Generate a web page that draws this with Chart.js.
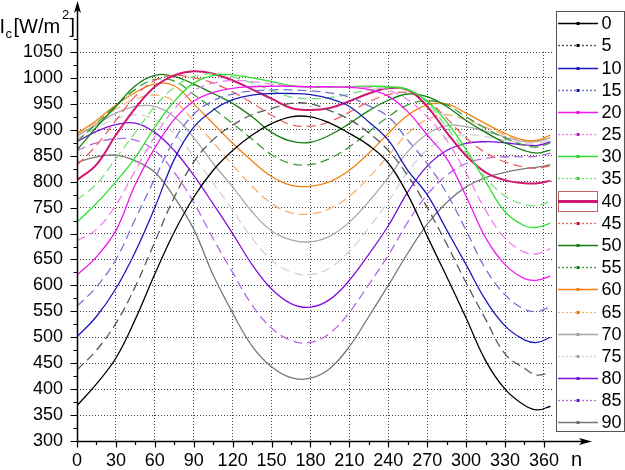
<!DOCTYPE html>
<html>
<head>
<meta charset="utf-8">
<script src="https://cdn.jsdelivr.net/npm/chart.js@4.4.1/dist/chart.umd.min.js"></script>
<style>
html,body{margin:0;padding:0;background:#fff;}
#wrap{width:625px;height:470px;position:relative;}
</style>
</head>
<body>
<div id="wrap"><canvas id="chart" width="625" height="470"></canvas></div>
<script>
// day of the year
const days = [0,15,30,45,60,75,90,105,120,135,150,165,180,195,210,225,240,255,270,285,300,315,330,345,355,365];
// tilt angles (legend)
const tilts = [0,5,10,15,20,25,30,35,40,45,50,55,60,65,70,75,80,85,90];

// Ic [W/m2], one list per tilt
const ic0  = [368,410,460,535,622,703,770,822,860,890,912,925,925,913,893,870,836,775,695,617,537,455,400,369,360,367];
const ic5  = [437,475,527,598,684,770,838,881,909,929,941,951,950,937,920,894,860,812,750,680,605,535,468,440,427,433];
const ic10 = [501,540,594,665,750,843,905,938,958,967,970,970,968,960,945,915,880,822,775,707,640,572,522,495,490,500];
const ic15 = [560,597,650,728,806,880,930,956,969,975,977,977,975,971,963,946,925,880,835,778,706,632,582,554,550,559];
const ic20 = [620,655,706,795,865,920,955,972,980,983,984,984,983,983,982,978,965,935,890,845,772,692,640,613,610,618];
const ic25 = [686,708,755,822,887,940,975,990,995,993,988,984,982,982,982,982,976,958,925,880,817,745,691,664,661,671];
const ic30 = [722,758,800,847,905,955,990,1005,1006,1000,993,985,982,982,983,984,983,978,955,915,862,800,742,715,712,720];
const ic35 = [765,795,845,895,945,982,1003,1008,1002,990,976,963,960,962,969,977,981,978,952,905,856,808,772,756,754,762];
const ic40 = [803,833,890,942,983,1005,1013,1008,995,978,960,942,938,942,955,970,980,977,945,895,850,818,803,797,797,802];
const ic45 = [832,870,918,965,995,1005,1000,990,973,952,928,910,907,916,934,954,968,972,956,922,884,856,838,828,826,831];
const ic50 = [861,905,945,985,1005,1003,988,970,951,925,895,878,876,890,912,937,957,969,964,945,918,895,875,860,855,861];
const ic55 = [877,912,947,978,997,994,968,941,912,882,852,835,833,845,867,896,925,948,956,948,925,903,884,870,867,875];
const ic60 = [893,918,948,972,988,985,950,912,874,840,810,793,791,800,822,855,893,928,948,950,932,912,893,880,880,890];
const ic65 = [891,914,940,959,967,955,917,876,832,791,758,740,738,748,772,808,850,893,920,929,919,905,890,879,879,888];
const ic70 = [888,910,932,945,945,925,885,835,790,742,705,688,684,695,722,762,808,858,892,908,906,897,886,877,877,885];
const ic75 = [883,904,921,929,920,893,849,797,745,691,649,626,621,634,666,711,762,819,861,884,890,887,880,874,873,881];
const ic80 = [877,897,910,913,895,860,812,757,700,640,593,565,558,573,610,660,715,780,830,860,874,877,875,871,870,877];
const ic85 = [860,875,883,880,860,818,760,690,625,562,518,494,490,508,548,602,658,722,775,812,835,845,848,848,849,855];
const ic90 = [837,848,851,840,818,770,708,620,547,483,443,422,421,440,482,540,600,662,718,760,790,808,818,825,828,833];

const series = [ic0,ic5,ic10,ic15,ic20,ic25,ic30,ic35,ic40,ic45,ic50,ic55,ic60,ic65,ic70,ic75,ic80,ic85,ic90];

// styles
const lineColors = ['#000000','#585858','#1a1ab8','#7474d4','#f018f0','#f080f0','#30e030','#78e078','#d01870',
  '#f06060','#108010','#3a9a3a','#f08010','#f8b070','#a8a8a8','#d2d2d2','#8010e0','#b466e6','#787878'];
const markColors = ['#000','#000','#1a1ab8','#1a1ab8','#e010e0','#c020c0','#30d030','#30d030','#c01870',
  '#d01010','#108010','#108010','#f08010','#e07010','#a0a0a0','#a0a0a0','#7010d0','#7010d0','#707070'];

const FONT = "'Liberation Sans', Arial, sans-serif";

const datasets = series.map((vals, i) => ({
  label: String(tilts[i]),
  data: vals.map((v, k) => ({x: days[k], y: v})),
  borderColor: lineColors[i],
  borderWidth: tilts[i] === 40 ? 2 : 1.3,
  borderDash: i % 2 ? [9, 5] : [],
  pointRadius: 0,
  tension: 0.4,
  fill: false
}));

// axes with arrows and minor ticks
const axesPlugin = {
  id: 'axes',
  afterDatasetsDraw(chart) {
    const {ctx, scales: {x, y}} = chart;
    const x0 = Math.round(x.getPixelForValue(0)) + 0.5;
    const y0 = Math.round(y.getPixelForValue(300)) + 0.5;
    ctx.save();
    ctx.strokeStyle = '#000';
    ctx.fillStyle = '#000';
    ctx.lineWidth = 1.5;
    ctx.beginPath();
    ctx.moveTo(x0, y0); ctx.lineTo(x0, 9);
    ctx.moveTo(x0, y0); ctx.lineTo(582, y0);
    ctx.stroke();
    ctx.beginPath();
    ctx.moveTo(x0, 1); ctx.lineTo(x0 - 3.5, 13); ctx.lineTo(x0, 10); ctx.lineTo(x0 + 3.5, 13); ctx.closePath();
    ctx.fill();
    ctx.beginPath();
    ctx.moveTo(592, y0); ctx.lineTo(579, y0 - 3.5); ctx.lineTo(582, y0); ctx.lineTo(579, y0 + 3.5); ctx.closePath();
    ctx.fill();
    ctx.lineWidth = 1.2;
    ctx.beginPath();
    for (let v = 0; v <= 360; v += 15) {
      const px = Math.round(x.getPixelForValue(v)) + 0.5;
      ctx.moveTo(px, y0); ctx.lineTo(px, y0 + (v % 30 === 0 ? 6 : 3.5));
    }
    for (let v = 300; v <= 1075; v += 25) {
      const py = Math.round(y.getPixelForValue(v)) + 0.5;
      ctx.moveTo(x0, py); ctx.lineTo(x0 - (v % 50 === 0 ? 7 : 4), py);
    }
    ctx.stroke();
    // axis titles
    ctx.textBaseline = 'alphabetic';
    ctx.textAlign = 'left';
    ctx.font = '20px ' + FONT;
    ctx.fillText('I', -0.5, 33);
    ctx.fillText('[W/m', 13.5, 33);
    ctx.fillText(']', 69.5, 33);
    ctx.font = '13px ' + FONT;
    ctx.fillText('c', 5.5, 38);
    ctx.fillText('2', 62, 19);
    ctx.font = '20px ' + FONT;
    ctx.fillText('n', 571, 466);
    ctx.restore();
  }
};

// boxed legend at the right
const legendPlugin = {
  id: 'boxLegend',
  afterDraw(chart) {
    const ctx = chart.ctx;
    const left = 556.5, top = 11.5, right = 624.5, bottom = 431.5;
    ctx.save();
    ctx.fillStyle = '#fff';
    ctx.fillRect(left, top, right - left, bottom - top);
    ctx.strokeStyle = '#555';
    ctx.lineWidth = 1;
    ctx.strokeRect(left, top, right - left, bottom - top);
    ctx.font = '18px ' + FONT;
    ctx.textBaseline = 'middle';
    ctx.textAlign = 'left';
    chart.data.datasets.forEach((ds, i) => {
      const cy = Math.round(23.3 + i * 22.17) + 0.5;
      if (tilts[i] === 40) {
        ctx.strokeStyle = '#c86060';
        ctx.lineWidth = 1;
        ctx.strokeRect(558.5, cy - 10, 39, 20);
      }
      ctx.strokeStyle = lineColors[i];
      ctx.lineWidth = tilts[i] === 40 ? 3 : 1.3;
      ctx.setLineDash(i % 2 ? [2, 2] : []);
      ctx.beginPath();
      ctx.moveTo(558, cy); ctx.lineTo(598, cy);
      ctx.stroke();
      ctx.setLineDash([]);
      ctx.fillStyle = markColors[i];
      ctx.fillRect(576.5, cy - 1.5, 3, 3);
      ctx.fillStyle = '#000';
      ctx.fillText(ds.label, 601.5, cy + 1);
    });
    ctx.restore();
  }
};

new Chart(document.getElementById('chart').getContext('2d'), {
  type: 'line',
  data: {datasets},
  options: {
    responsive: false,
    animation: false,
    devicePixelRatio: 1,
    layout: {padding: {left: 0, top: 52, right: 72, bottom: 0}},
    plugins: {legend: {display: false}, tooltip: {enabled: false}},
    scales: {
      x: {
        type: 'linear', min: 0, max: 367,
        afterFit: s => { s.height = 29; },
        ticks: {stepSize: 30, includeBounds: false, padding: 9, color: '#000', maxRotation: 0, autoSkip: false,
          font: {family: FONT, size: 18}, callback: v => String(v)},
        grid: {color: '#444', lineWidth: 1, drawTicks: false},
        border: {display: false, dash: [1, 2]}
      },
      y: {
        type: 'linear', min: 300, max: 1050,
        afterFit: s => { s.width = 77; },
        ticks: {stepSize: 50, includeBounds: false, padding: 14, color: '#000',
          font: {family: FONT, size: 18}, callback: v => String(v)},
        grid: {color: '#444', lineWidth: 1, drawTicks: false},
        border: {display: false, dash: [1, 2]}
      }
    }
  },
  plugins: [axesPlugin, legendPlugin]
});
</script>
</body>
</html>
